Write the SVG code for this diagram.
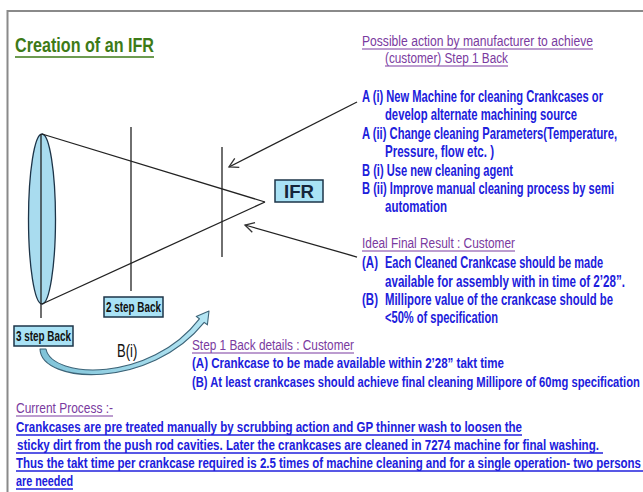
<svg xmlns="http://www.w3.org/2000/svg" width="643" height="492" viewBox="0 0 643 492">
  <style>
    .t { font-family: "Liberation Sans Narrow", "Liberation Sans", Arial, sans-serif; }
    .title { fill: #3d7a17; font-size: 21px; font-weight: bold; }
    .head { fill: #7a3aa0; font-size: 15px; }
    .blue { fill: #2020dc; font-size: 16px; font-weight: bold; }
    .blue2 { fill: #2020dc; font-size: 15px; font-weight: bold; }
    .lbl { fill: #111; font-size: 14px; font-weight: bold; }
    .box { fill: #a9e2f5; stroke: #1d3448; stroke-width: 1.5; }
    .ln { stroke: #222; stroke-width: 1.3; fill: none; }
    .ulp { stroke: #7a3aa0; stroke-width: 1.2; }
    .ulb { stroke: #2020dc; stroke-width: 1.3; }
  </style>
  <defs>
    <marker id="open" markerWidth="12" markerHeight="12" refX="10" refY="6" orient="auto" markerUnits="userSpaceOnUse">
      <path d="M1,1 L10,6 L1,11" fill="none" stroke="#333" stroke-width="1.3"/>
    </marker>
    <linearGradient id="band" x1="0" y1="0" x2="1" y2="0">
      <stop offset="0" stop-color="#7fc3d8"/>
      <stop offset="1" stop-color="#b5e6f4"/>
    </linearGradient>
  </defs>

  <rect width="643" height="492" fill="#ffffff"/>
  <!-- slide frame -->
  <path d="M7.5 492 V11 H643" fill="none" stroke="#8a8a8a" stroke-width="2"/>

  <!-- title -->
  <g id="title">
    <text class="t title" transform="translate(15 52) scale(.8 1)" textLength="173.8" lengthAdjust="spacingAndGlyphs">Creation of an  IFR</text>
    <line x1="15" y1="57" x2="154" y2="57" stroke="#3d7a17" stroke-width="1.5"/>
  </g>

  <!-- cone of steps back -->
  <g id="cone">
    <ellipse cx="42" cy="219" rx="13.5" ry="85" fill="#a9dcef" stroke="#1d3448" stroke-width="1.3"/>
    <line class="ln" x1="41" y1="134" x2="41" y2="318"/>
    <line class="ln" x1="42" y1="134" x2="265" y2="202"/>
    <line class="ln" x1="42" y1="304" x2="265" y2="202"/>
    <line class="ln" x1="131" y1="127" x2="131" y2="291"/>
    <line class="ln" x1="222" y1="147" x2="222" y2="257"/>
  </g>

  <g id="step2">
    <rect class="box" x="104" y="297" width="59" height="20"/>
    <text class="t lbl" transform="translate(106 312) scale(.72 1)" textLength="76.4" lengthAdjust="spacingAndGlyphs">2 step Back</text>
  </g>

  <g id="step3">
    <rect class="box" x="14" y="326" width="59" height="20"/>
    <text class="t lbl" transform="translate(16 341) scale(.72 1)" textLength="76.4" lengthAdjust="spacingAndGlyphs">3 step Back</text>
  </g>

  <g id="ifr">
    <rect class="box" x="275" y="180" width="48" height="22"/>
    <text class="t" transform="translate(284 198) scale(.75 1)" font-size="18" font-weight="bold" fill="#15253a" textLength="40" lengthAdjust="spacingAndGlyphs">IFR</text>
  </g>

  <!-- possible actions -->
  <g id="actions">
    <text class="t head" transform="translate(362 46) scale(.72 1)" textLength="320.8" lengthAdjust="spacingAndGlyphs">Possible action by manufacturer  to achieve</text>
    <line class="ulp" x1="362" y1="49" x2="593" y2="49"/>
    <text class="t head" transform="translate(385 63) scale(.72 1)" textLength="170.8" lengthAdjust="spacingAndGlyphs">(customer) Step 1 Back</text>
    <line class="ulp" x1="385" y1="66" x2="508" y2="66"/>
    <text class="t blue" transform="translate(362 102) scale(.72 1)" textLength="334.7" lengthAdjust="spacingAndGlyphs">A (i) New Machine for cleaning Crankcases or</text>
    <text class="t blue" transform="translate(385 120) scale(.72 1)" textLength="266.7" lengthAdjust="spacingAndGlyphs">develop alternate machining source</text>
    <text class="t blue" transform="translate(362 139) scale(.72 1)" textLength="354.2" lengthAdjust="spacingAndGlyphs">A (ii) Change cleaning Parameters(Temperature,</text>
    <text class="t blue" transform="translate(385 157) scale(.72 1)" textLength="151.4" lengthAdjust="spacingAndGlyphs">Pressure, flow etc. )</text>
    <text class="t blue" transform="translate(362 176) scale(.72 1)" textLength="209.7" lengthAdjust="spacingAndGlyphs">B (i) Use new cleaning agent</text>
    <text class="t blue" transform="translate(362 194) scale(.72 1)" textLength="350" lengthAdjust="spacingAndGlyphs">B (ii) Improve manual  cleaning process by semi</text>
    <text class="t blue" transform="translate(385 212) scale(.72 1)" textLength="86.1" lengthAdjust="spacingAndGlyphs">automation</text>
  </g>

  <!-- ideal final result -->
  <g id="ideal">
    <text class="t head" transform="translate(362 248) scale(.72 1)" textLength="212.5" lengthAdjust="spacingAndGlyphs">Ideal Final Result : Customer</text>
    <line class="ulp" x1="362" y1="251" x2="515" y2="251"/>
    <text class="t blue" transform="translate(362 268) scale(.72 1)" textLength="22.2" lengthAdjust="spacingAndGlyphs">(A)</text>
    <text class="t blue" transform="translate(385 268) scale(.72 1)" textLength="302.8" lengthAdjust="spacingAndGlyphs">Each Cleaned Crankcase  should be made</text>
    <text class="t blue" transform="translate(385 287) scale(.72 1)" textLength="333.3" lengthAdjust="spacingAndGlyphs">available for assembly with in time of 2’28”.</text>
    <text class="t blue" transform="translate(362 305) scale(.72 1)" textLength="22.2" lengthAdjust="spacingAndGlyphs">(B)</text>
    <text class="t blue" transform="translate(385 305) scale(.72 1)" textLength="316.7" lengthAdjust="spacingAndGlyphs">Millipore value of the crankcase  should be</text>
    <text class="t blue" transform="translate(385 323) scale(.72 1)" textLength="156.9" lengthAdjust="spacingAndGlyphs">&lt;50% of specification</text>
  </g>

  <!-- step 1 back details -->
  <g id="details">
    <text class="t head" transform="translate(192 350) scale(.72 1)" textLength="225" lengthAdjust="spacingAndGlyphs">Step 1 Back details : Customer</text>
    <line class="ulp" x1="192" y1="353" x2="354" y2="353"/>
    <text class="t blue2" transform="translate(192 368) scale(.72 1)" textLength="433.3" lengthAdjust="spacingAndGlyphs">(A) Crankcase to be made available within 2’28” takt time</text>
    <text class="t blue2" transform="translate(192 387) scale(.72 1)" textLength="622" lengthAdjust="spacingAndGlyphs">(B) At least crankcases should achieve final cleaning Millipore of 60mg specification</text>
  </g>

  <!-- current process -->
  <g id="current">
    <text class="t head" transform="translate(16 413) scale(.72 1)" textLength="134.7" lengthAdjust="spacingAndGlyphs">Current Process :-</text>
    <line class="ulp" x1="16" y1="416" x2="113" y2="416"/>
    <text class="t blue2" transform="translate(16 432) scale(.72 1)" textLength="702.8" lengthAdjust="spacingAndGlyphs">Crankcases are pre treated manually by scrubbing action and GP thinner  wash to loosen the</text>
    <line class="ulb" x1="16" y1="435" x2="522" y2="435"/>
    <text class="t blue2" transform="translate(17 450) scale(.72 1)" textLength="808.3" lengthAdjust="spacingAndGlyphs">sticky dirt from the push rod cavities. Later the crankcases are cleaned in 7274 machine for final washing.</text>
    <line class="ulb" x1="16" y1="453" x2="603" y2="453"/>
    <text class="t blue2" transform="translate(16 468) scale(.72 1)" textLength="868" lengthAdjust="spacingAndGlyphs">Thus the takt time per crankcase required is 2.5 times of machine cleaning and for a single operation- two persons</text>
    <line class="ulb" x1="16" y1="471" x2="643" y2="471"/>
    <text class="t blue2" transform="translate(16 486) scale(.72 1)" textLength="79.2" lengthAdjust="spacingAndGlyphs">are needed</text>
    <line class="ulb" x1="16" y1="489" x2="73" y2="489"/>
  </g>

  <!-- connectors -->
  <g id="connectors">
    <line class="ln" x1="357" y1="102" x2="229" y2="167" marker-end="url(#open)"/>
    <line class="ln" x1="357" y1="257" x2="245" y2="225" marker-end="url(#open)"/>
    <path d="M40 349 C41 384 150 390 204.2 322.4 L207.4 324.8 L209 311 L196.2 316.4 L199.4 318.8 C150 383 52 379 46 349 Z" fill="url(#band)" stroke="#3d6478" stroke-width="1.1" stroke-linejoin="round"/>
    <text class="t" transform="translate(117 357) scale(.75 1)" font-size="18" fill="#111" textLength="27" lengthAdjust="spacingAndGlyphs">B(i)</text>
  </g>
</svg>
